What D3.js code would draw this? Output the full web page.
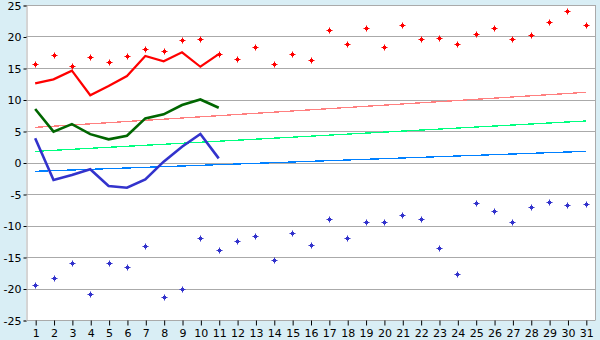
<!DOCTYPE html>
<html><head><meta charset="utf-8">
<script src="https://cdn.jsdelivr.net/npm/d3@7/dist/d3.min.js"></script>
<style>
html,body{margin:0;padding:0;background:#D9EEF5;}
svg{display:block;}
text{font-family:"DejaVu Sans",Verdana,sans-serif;font-size:11px;fill:#000;}
</style></head>
<body><div id="chart"></div>
<script>
const days = d3.range(1, 32);
const yTicks = [-25,-20,-15,-10,-5,0,5,10,15,20,25];

const redPoints = [15.6,17.0,15.3,16.7,15.95,16.9,17.95,17.65,19.4,19.55,17.3,16.4,18.4,15.6,17.2,16.2,21.1,18.75,21.3,18.3,21.8,19.55,19.7,18.75,20.35,21.3,19.55,20.2,22.25,24.0,21.9];
const bluePoints = [-19.5,-18.4,-16.0,-20.8,-16.0,-16.6,-13.25,-21.4,-20.1,-12.0,-13.9,-12.5,-11.7,-15.5,-11.25,-13.15,-9.0,-12.0,-9.5,-9.5,-8.4,-9.0,-13.6,-17.75,-6.5,-7.75,-9.5,-7.1,-6.3,-6.8,-6.65];

const redLine = [12.57,13.2,14.57,10.67,12.14,13.73,16.9,16.06,17.49,15.2,17.2];
const greenLine = [8.5,4.9,6.1,4.5,3.68,4.25,7.0,7.65,9.13,10.0,8.7];
const blueLine = [3.84,-2.78,-1.98,-1.08,-3.73,-4.0,-2.67,0.13,2.5,4.52,0.66];

// trend lines: [value at day 1, value at day 31]
const redTrend = [5.58, 11.14];
const greenTrend = [1.77, 6.59];
const blueTrend = [-1.4, 1.77];

const W = 600, H = 340;
const L = 26, R = 595, T = 5, B = 320;

const svg = d3.select("#chart").append("svg").attr("width", W).attr("height", H);
svg.append("rect").attr("width", W).attr("height", H).attr("fill", "#D9EEF5");
svg.append("rect").attr("x", L).attr("y", T).attr("width", R - L).attr("height", B - T).attr("fill", "#fff");

const x = d3.scalePoint().domain(days).range([L, R]).padding(0.5);
const y = d3.scaleLinear().domain([-25, 25]).range([B, T]);

// grid
svg.append("g").selectAll("line").data(yTicks).join("line")
  .attr("x1", L).attr("x2", R)
  .attr("y1", d => Math.round(y(d)) + 0.5).attr("y2", d => Math.round(y(d)) + 0.5)
  .attr("stroke", "#AAAAAA").attr("stroke-width", 1).attr("shape-rendering", "crispEdges");
svg.append("line").attr("x1", R + 0.5).attr("x2", R + 0.5).attr("y1", T).attr("y2", B)
  .attr("stroke", "#AAAAAA").attr("shape-rendering", "crispEdges");

// axes
const yAxis = d3.axisLeft(y).tickValues(yTicks).tickSize(3).tickPadding(2).tickFormat(d => String(d));
const gy = svg.append("g").attr("transform", `translate(${L + 0.5},0.5)`).call(yAxis);
gy.select(".domain").attr("stroke", "#AAAAAA");
gy.selectAll(".tick line").attr("stroke", "#000");
gy.selectAll("text").style("font-size", "11px");

const xAxis = d3.axisBottom(x).tickSize(5).tickPadding(4);
const gx = svg.append("g").attr("transform", `translate(0.5,${B + 0.5})`).call(xAxis);
gx.select(".domain").attr("stroke", "#AAAAAA").attr("d", `M${L - 0.5},0H${R}`);
gx.selectAll(".tick line").attr("stroke", "#000");
gx.selectAll("text").style("font-size", "11px");

// trend lines
function trend(vals, color) {
  svg.append("line")
    .attr("x1", x(1)).attr("x2", x(31))
    .attr("y1", y(vals[0])).attr("y2", y(vals[1]))
    .attr("stroke", color).attr("stroke-width", 1.3).attr("shape-rendering", "crispEdges");
}
trend(redTrend, "#FF8080");
trend(greenTrend, "#00FF80");
trend(blueTrend, "#0080FF");

// lines
const lineGen = d3.line().x((d, i) => x(days[i])).y(d => y(d));
function drawLine(vals, color, w) {
  svg.append("path").datum(vals).attr("d", lineGen)
    .attr("fill", "none").attr("stroke", color).attr("stroke-width", w).attr("stroke-linejoin", "miter");
}
drawLine(redLine, "#FF0000", 2.2);
drawLine(greenLine, "#006600", 2.6);
drawLine(blueLine, "#3333CC", 2.6);

// markers
const marker = "M-0.5,-3H0.5V-1.5H1.5V-0.5H3V0.5H1.5V1.5H0.5V3H-0.5V1.5H-1.5V0.5H-3V-0.5H-1.5V-1.5H-0.5Z";
function points(vals, color) {
  svg.append("g").selectAll("path").data(vals).join("path")
    .attr("d", marker)
    .attr("transform", (d, i) => `translate(${Math.round(x(days[i])) + 0.5},${Math.round(y(d)) + 0.5})`)
    .attr("fill", color);
}
points(redPoints, "#FF0000");
points(bluePoints, "#3333CC");
</script>
</body></html>
